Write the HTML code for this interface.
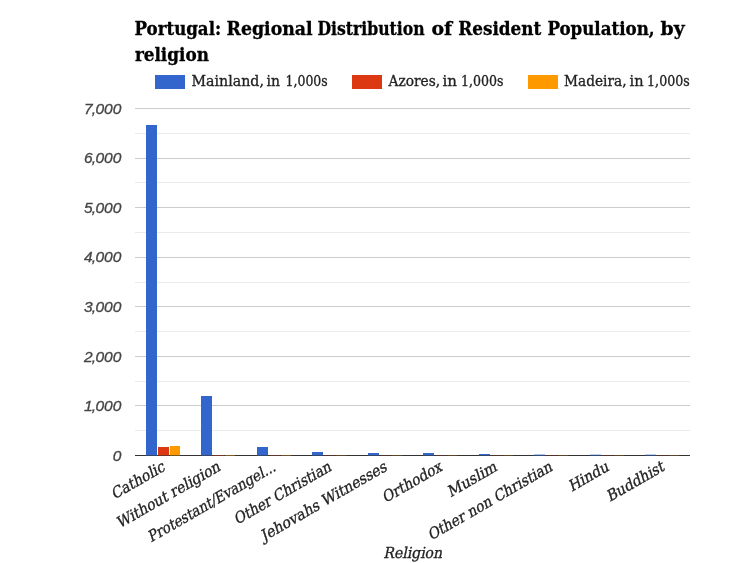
<!DOCTYPE html>
<html lang="en"><head><meta charset="utf-8"><title>Portugal: Regional Distribution of Resident Population, by religion</title>
<style>html,body{margin:0;padding:0;background:#fff;}svg{display:block;will-change:transform;}.slab{font-family:"DejaVu Serif Condensed","DejaVu Serif","Liberation Serif",serif;}.sans{font-family:"Liberation Sans",sans-serif;}</style></head><body>
<svg width="750" height="563" viewBox="0 0 750 563">
<rect width="750" height="563" fill="#ffffff"/>
<g class="slab" font-weight="bold" font-size="18.5" fill="#000" stroke="#000" stroke-width="0.3">
<text y="34.5"><tspan x="134.6" textLength="86.5" lengthAdjust="spacingAndGlyphs">Portugal:</tspan> <tspan x="226.6" textLength="86.0" lengthAdjust="spacingAndGlyphs">Regional</tspan> <tspan x="317.4" textLength="107.2" lengthAdjust="spacingAndGlyphs">Distribution</tspan> <tspan x="431.4" textLength="20.7" lengthAdjust="spacingAndGlyphs">of</tspan> <tspan x="458.2" textLength="83.2" lengthAdjust="spacingAndGlyphs">Resident</tspan> <tspan x="547.4" textLength="107.2" lengthAdjust="spacingAndGlyphs">Population,</tspan> <tspan x="660.6" textLength="24.0" lengthAdjust="spacingAndGlyphs">by</tspan></text>
<text x="134.9" y="60.7" textLength="74" lengthAdjust="spacingAndGlyphs">religion</text>
</g>
<rect x="155" y="75" width="30" height="14" fill="#3366cc"/>
<rect x="352" y="75" width="30" height="14" fill="#dc3912"/>
<rect x="528" y="75" width="30" height="14" fill="#ff9900"/>
<g class="slab" font-size="14.6" fill="#222" stroke="#222" stroke-width="0.3">
<text y="85.5"><tspan x="191.5" textLength="72.4" lengthAdjust="spacingAndGlyphs">Mainland,</tspan> <tspan x="266.5" textLength="13.5" lengthAdjust="spacingAndGlyphs">in</tspan> <tspan x="285.5" textLength="42.2" lengthAdjust="spacingAndGlyphs">1,000s</tspan></text>
<text y="85.5"><tspan x="388.5" textLength="51.6" lengthAdjust="spacingAndGlyphs">Azores,</tspan> <tspan x="442.5" textLength="14.5" lengthAdjust="spacingAndGlyphs">in</tspan> <tspan x="461.1" textLength="42.4" lengthAdjust="spacingAndGlyphs">1,000s</tspan></text>
<text y="85.5"><tspan x="564.1" textLength="62.4" lengthAdjust="spacingAndGlyphs">Madeira,</tspan> <tspan x="629.5" textLength="14.0" lengthAdjust="spacingAndGlyphs">in</tspan> <tspan x="647.1" textLength="42.6" lengthAdjust="spacingAndGlyphs">1,000s</tspan></text>
</g>
<g shape-rendering="crispEdges">
<rect x="135" y="430" width="555" height="1" fill="#ebebeb"/>
<rect x="135" y="405" width="555" height="1" fill="#cccccc"/>
<rect x="135" y="381" width="555" height="1" fill="#ebebeb"/>
<rect x="135" y="356" width="555" height="1" fill="#cccccc"/>
<rect x="135" y="331" width="555" height="1" fill="#ebebeb"/>
<rect x="135" y="306" width="555" height="1" fill="#cccccc"/>
<rect x="135" y="282" width="555" height="1" fill="#ebebeb"/>
<rect x="135" y="257" width="555" height="1" fill="#cccccc"/>
<rect x="135" y="232" width="555" height="1" fill="#ebebeb"/>
<rect x="135" y="207" width="555" height="1" fill="#cccccc"/>
<rect x="135" y="182" width="555" height="1" fill="#ebebeb"/>
<rect x="135" y="158" width="555" height="1" fill="#cccccc"/>
<rect x="135" y="133" width="555" height="1" fill="#ebebeb"/>
<rect x="135" y="108" width="555" height="1" fill="#cccccc"/>
</g>
<rect x="135" y="455" width="555" height="1" fill="#333333" shape-rendering="crispEdges"/>
<g shape-rendering="crispEdges">
<rect x="146" y="125" width="11" height="330" fill="#3366cc"/>
<rect x="146" y="455" width="11" height="1" fill="#3366cc" fill-opacity="0.35"/>
<rect x="158" y="447" width="11" height="8" fill="#dc3912"/>
<rect x="158" y="455" width="11" height="1" fill="#dc3912" fill-opacity="0.35"/>
<rect x="170" y="446" width="10" height="9" fill="#ff9900"/>
<rect x="170" y="455" width="10" height="1" fill="#ff9900" fill-opacity="0.35"/>
<rect x="201" y="396" width="11" height="59" fill="#3366cc"/>
<rect x="201" y="455" width="11" height="1" fill="#3366cc" fill-opacity="0.35"/>
<rect x="213" y="455" width="11" height="1" fill="#dc3912" fill-opacity="0.40"/>
<rect x="225" y="455" width="10" height="1" fill="#ff9900" fill-opacity="0.40"/>
<rect x="257" y="447" width="11" height="8" fill="#3366cc"/>
<rect x="257" y="455" width="11" height="1" fill="#3366cc" fill-opacity="0.35"/>
<rect x="269" y="455" width="11" height="1" fill="#dc3912" fill-opacity="0.30"/>
<rect x="281" y="455" width="10" height="1" fill="#ff9900" fill-opacity="0.30"/>
<rect x="312" y="452" width="11" height="3" fill="#3366cc"/>
<rect x="312" y="455" width="11" height="1" fill="#3366cc" fill-opacity="0.35"/>
<rect x="324" y="455" width="11" height="1" fill="#dc3912" fill-opacity="0.20"/>
<rect x="336" y="455" width="10" height="1" fill="#ff9900" fill-opacity="0.20"/>
<rect x="368" y="453" width="11" height="2" fill="#3366cc"/>
<rect x="368" y="455" width="11" height="1" fill="#3366cc" fill-opacity="0.35"/>
<rect x="380" y="455" width="11" height="1" fill="#dc3912" fill-opacity="0.20"/>
<rect x="392" y="455" width="10" height="1" fill="#ff9900" fill-opacity="0.20"/>
<rect x="423" y="453" width="11" height="2" fill="#3366cc"/>
<rect x="423" y="455" width="11" height="1" fill="#3366cc" fill-opacity="0.35"/>
<rect x="435" y="455" width="11" height="1" fill="#dc3912" fill-opacity="0.20"/>
<rect x="447" y="455" width="10" height="1" fill="#ff9900" fill-opacity="0.20"/>
<rect x="479" y="454" width="11" height="1" fill="#3366cc"/>
<rect x="479" y="455" width="11" height="1" fill="#3366cc" fill-opacity="0.35"/>
<rect x="491" y="455" width="11" height="1" fill="#dc3912" fill-opacity="0.20"/>
<rect x="503" y="455" width="10" height="1" fill="#ff9900" fill-opacity="0.20"/>
<rect x="534" y="455" width="11" height="1" fill="#3366cc" fill-opacity="0.50"/>
<rect x="534" y="454" width="11" height="1" fill="#3366cc" fill-opacity="0.40"/>
<rect x="546" y="455" width="11" height="1" fill="#dc3912" fill-opacity="0.20"/>
<rect x="558" y="455" width="10" height="1" fill="#ff9900" fill-opacity="0.20"/>
<rect x="590" y="455" width="11" height="1" fill="#3366cc" fill-opacity="0.40"/>
<rect x="590" y="454" width="11" height="1" fill="#3366cc" fill-opacity="0.32"/>
<rect x="602" y="455" width="11" height="1" fill="#dc3912" fill-opacity="0.20"/>
<rect x="614" y="455" width="10" height="1" fill="#ff9900" fill-opacity="0.20"/>
<rect x="645" y="455" width="11" height="1" fill="#3366cc" fill-opacity="0.40"/>
<rect x="645" y="454" width="11" height="1" fill="#3366cc" fill-opacity="0.32"/>
<rect x="657" y="455" width="11" height="1" fill="#dc3912" fill-opacity="0.20"/>
<rect x="669" y="455" width="10" height="1" fill="#ff9900" fill-opacity="0.20"/>
</g>
<g class="sans" font-style="italic" font-size="15.5" fill="#444" stroke="#444" stroke-width="0.3" text-anchor="end">
<text x="121.3" y="460.7">0</text>
<text x="121.3" y="411.1" dx="0 -0.7 -0.7">1,000</text>
<text x="121.3" y="361.6" dx="0 -0.7 -0.7">2,000</text>
<text x="121.3" y="312.0" dx="0 -0.7 -0.7">3,000</text>
<text x="121.3" y="262.4" dx="0 -0.7 -0.7">4,000</text>
<text x="121.3" y="212.8" dx="0 -0.7 -0.7">5,000</text>
<text x="121.3" y="163.3" dx="0 -0.7 -0.7">6,000</text>
<text x="121.3" y="113.7" dx="0 -0.7 -0.7">7,000</text>
</g>
<g class="slab" font-size="15.2" fill="#222" stroke="#222" stroke-width="0.3" text-anchor="end">
<text transform="translate(165.75 470) rotate(-30) skewX(-12)" textLength="59.2" lengthAdjust="spacingAndGlyphs">Catholic</text>
<text transform="translate(221.25 470) rotate(-30) skewX(-12)" textLength="117.2" lengthAdjust="spacingAndGlyphs">Without religion</text>
<text transform="translate(276.75 470) rotate(-30) skewX(-12)" textLength="145.2" lengthAdjust="spacingAndGlyphs">Protestant/Evangel...</text>
<text transform="translate(332.25 470) rotate(-30) skewX(-12)" textLength="109.6" lengthAdjust="spacingAndGlyphs">Other Christian</text>
<text transform="translate(387.75 470) rotate(-30) skewX(-12)" textLength="143" lengthAdjust="spacingAndGlyphs">Jehovahs Witnesses</text>
<text transform="translate(442.95 470) rotate(-30) skewX(-12)" textLength="66.2" lengthAdjust="spacingAndGlyphs">Orthodox</text>
<text transform="translate(497.95 470) rotate(-30) skewX(-12)" textLength="54.8" lengthAdjust="spacingAndGlyphs">Muslim</text>
<text transform="translate(553.25 470) rotate(-30) skewX(-12)" textLength="141" lengthAdjust="spacingAndGlyphs">Other non Christian</text>
<text transform="translate(609.75 470) rotate(-30) skewX(-12)" textLength="44" lengthAdjust="spacingAndGlyphs">Hindu</text>
<text transform="translate(665.25 470) rotate(-30) skewX(-12)" textLength="64" lengthAdjust="spacingAndGlyphs">Buddhist</text>
</g>
<text class="slab" font-size="15.2" fill="#222" stroke="#222" stroke-width="0.3" text-anchor="middle" transform="translate(412.7 557.5) skewX(-12)" textLength="58.8" lengthAdjust="spacingAndGlyphs">Religion</text>
</svg></body></html>
